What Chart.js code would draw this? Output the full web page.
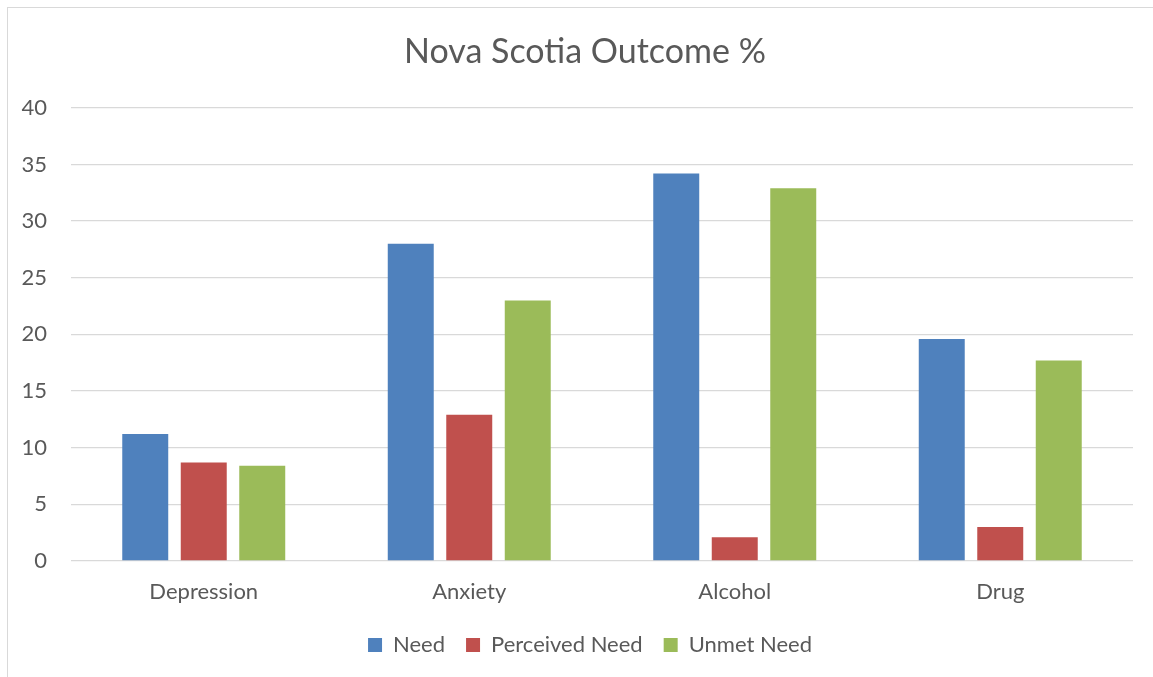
<!DOCTYPE html>
<html>
<head>
<meta charset="utf-8">
<script src="https://cdn.jsdelivr.net/npm/chart.js@4"></script>
<style>
    html, body { margin: 0; padding: 0; background: #fff; }
    #wrap { position: relative; width: 1153px; height: 677px; overflow: hidden; }
    #frame { position: absolute; left: 7px; top: 7px; width: 1200px; height: 700px;
             border-left: 1px solid #d9d9d9; border-top: 1px solid #d9d9d9; }
    #grafico { position: absolute; left: 0; top: 0; }
</style>
</head>
<body>
<div id="wrap">
    <div id="frame"></div>
    <canvas id="grafico" width="1153" height="677"></canvas>
</div>
<script>
// dados
const categorias = ['Depression', 'Anxiety', 'Alcohol', 'Drug'];
const need = [11.2, 28.0, 34.2, 19.6];
const perceivedNeed = [8.7, 12.9, 2.1, 3.0];
const unmetNeed = [8.4, 23.0, 32.9, 17.7];
const yTicks = [0, 5, 10, 15, 20, 25, 30, 35, 40];

const FONTE = 'Lato, "Open Sans", sans-serif';
const COR_TEXTO = '#595959';

// título e legenda ficam um pouco à direita no original (centrados na área do gráfico)
const deslocarCaixas = {
    id: 'deslocarCaixas',
    afterLayout(chart) {
        const mover = (box, dx) => { if (box) { box.left += dx; box.right += dx; } };
        mover(chart.titleBlock, 15);
        mover(chart.legend, 20);
    }
};

new Chart(document.getElementById('grafico'), {
    type: 'bar',
    data: {
        labels: categorias,
        datasets: [
            { label: 'Need', data: need, backgroundColor: '#4f81bd' },
            { label: 'Perceived Need', data: perceivedNeed, backgroundColor: '#c0504d' },
            { label: 'Unmet Need', data: unmetNeed, backgroundColor: '#9bbb59' }
        ]
    },
    plugins: [deslocarCaixas],
    options: {
        responsive: false,
        animation: false,
        devicePixelRatio: 1,
        barPercentage: 0.786,
        categoryPercentage: 0.661,
        layout: { padding: { left: 7, right: 20, top: 0, bottom: 11 } },
        plugins: {
            title: {
                display: true,
                text: 'Nova Scotia Outcome %',
                color: COR_TEXTO,
                font: { family: FONTE, size: 34, weight: 'normal' },
                padding: { top: 32, bottom: 35 }
            },
            legend: {
                position: 'bottom',
                labels: {
                    color: COR_TEXTO,
                    font: { family: FONTE, size: 22 },
                    boxWidth: 14,
                    boxHeight: 14,
                    padding: 21
                }
            },
            tooltip: { enabled: false }
        },
        scales: {
            x: {
                grid: { display: false, drawTicks: false },
                border: { display: false },
                ticks: { color: COR_TEXTO, font: { family: FONTE, size: 22 }, padding: 18 },
                afterFit: s => { s.height = 52; }
            },
            y: {
                min: 0,
                max: 40,
                afterBuildTicks: s => { s.ticks = yTicks.map(v => ({ value: v })); },
                grid: { color: '#d9d9d9', lineWidth: 1.3, drawTicks: false },
                border: { display: false },
                ticks: { color: COR_TEXTO, font: { family: FONTE, size: 22 }, padding: 24 },
                afterFit: s => { s.width = 64; }
            }
        }
    }
});
</script>
</body>
</html>
